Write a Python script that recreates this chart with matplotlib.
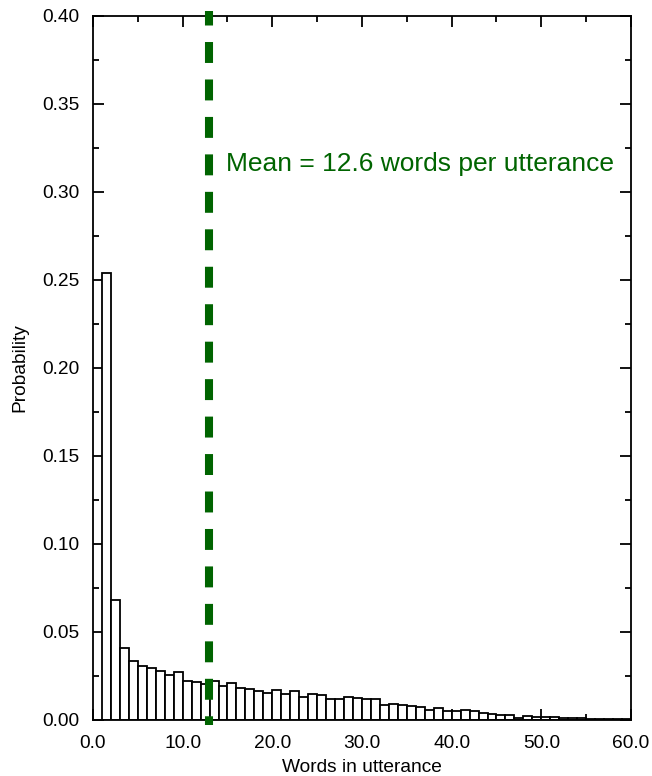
import numpy as np
import matplotlib
matplotlib.use("Agg")
import matplotlib.pyplot as plt
from matplotlib.ticker import MultipleLocator, FormatStrFormatter

plt.rcParams['font.family'] = ['Liberation Sans', 'DejaVu Sans']

# Histogram data: words per utterance (bin k covers k..k+1)
words = np.arange(1, 60)
probs = [0.254, 0.068, 0.0407, 0.0333, 0.0307, 0.0295, 0.0278, 0.0256, 0.0275, 0.0223,
         0.0218, 0.0205, 0.0222, 0.0195, 0.0212, 0.0180, 0.0176, 0.0163, 0.0155, 0.0172,
         0.0148, 0.0163, 0.0132, 0.0148, 0.0140, 0.0121, 0.0121, 0.0131, 0.0127, 0.0121,
         0.0118, 0.0087, 0.0091, 0.0087, 0.0081, 0.0071, 0.0059, 0.0066, 0.0053, 0.0053,
         0.0059, 0.0051, 0.0040, 0.0032, 0.0030, 0.0027, 0.0013, 0.0023, 0.0019, 0.0017,
         0.0017, 0.0013, 0.0010, 0.0013, 0.0008, 0.0006, 0.0006, 0.0004, 0.0003]
mean_x = 12.95
mean_label = "Mean = 12.6 words per utterance"

fig = plt.figure(figsize=(6.52, 7.76), dpi=100)
ax = fig.add_axes([0.1426, 0.0722, 0.8252, 0.9072])

ax.bar(words, probs, width=1.0, align='edge', facecolor='white',
       edgecolor='black', linewidth=1.3, zorder=2)

# dashed mean line, runs a little past the axes at both ends
ax.plot([mean_x, mean_x], [0.4028, -0.0028], color='#006400', linewidth=5.8,
        linestyle=(0.8, (2.6, 2.05)), dash_capstyle='butt', clip_on=False, zorder=3)
ax.text(14.8, 0.316, mean_label, color='#006400', fontsize=19, va='center', ha='left')

ax.set_xlim(0, 60)
ax.set_ylim(0, 0.40)
ax.xaxis.set_major_locator(MultipleLocator(10))
ax.xaxis.set_minor_locator(MultipleLocator(5))
ax.yaxis.set_major_locator(MultipleLocator(0.05))
ax.yaxis.set_minor_locator(MultipleLocator(0.025))
ax.xaxis.set_major_formatter(FormatStrFormatter('%.1f'))
ax.yaxis.set_major_formatter(FormatStrFormatter('%.2f'))
ax.tick_params(which='both', direction='in', top=True, right=True, width=1.3,
               labelsize=13.8)
ax.tick_params(axis='y', which='major', pad=9.5)
ax.tick_params(axis='x', which='major', pad=11)
ax.tick_params(which='major', length=8)
ax.tick_params(which='minor', length=4.5)
for s in ax.spines.values():
    s.set_linewidth(1.3)

ax.set_xlabel('Words in utterance', fontsize=13.8, labelpad=5)
ax.set_ylabel('Probability', fontsize=13.8, labelpad=10)

fig.savefig('out.png', dpi=100)
